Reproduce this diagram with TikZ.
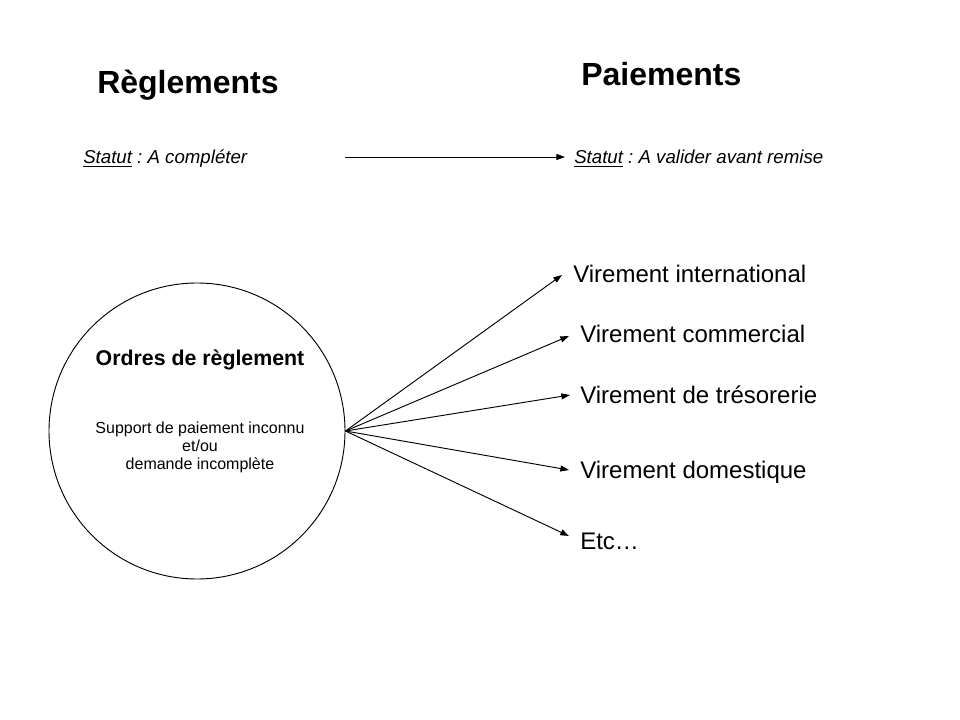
\documentclass[tikz,border=0pt]{standalone}
\usepackage{fontspec}
\setmainfont{Liberation Sans}
\usetikzlibrary{arrows.meta}
\frenchspacing
\begin{document}
\begin{tikzpicture}[x=0.75pt,y=-0.75pt,
  txt/.style={inner sep=0pt, anchor=base west},
  title/.style={txt, font=\bfseries\fontsize{24}{28}\selectfont},
  statut/.style={txt, font=\itshape\fontsize{14}{16}\selectfont},
  target/.style={txt, font=\fontsize{18}{21}\selectfont},
  arr/.style={-{Triangle[length=6.5pt,width=4.5pt]}, line width=0.7pt},
]
\useasboundingbox[fill=white] (0,0) rectangle (960,720);
% titles
\node[title] (reg) at (97,94) {Règlements};
\node[title] (pai) at (581,86) {Paiements};
% status
\node[statut] (s1) at (83,164) {\underline{Statut} : A compléter};
\node[statut] (s2) at (574,164) {\underline{Statut} : A valider avant remise};
\draw[arr, shorten <=73.5pt, shorten >=6.75pt] ([yshift=5.25pt]s1.base east) -- ([yshift=5.25pt]s2.base west);
% circle
\node[draw, circle, minimum size=222pt, inner sep=0pt, line width=0.7pt] (c) at (197,431) {};
\node[font=\bfseries\fontsize{16}{19}\selectfont, inner sep=0pt, anchor=base] (ord) at (200,365) {Ordres de règlement};
\node[font=\fontsize{12}{13.5}\selectfont, inner sep=0pt, align=center] (sup) at (200,447) {Support de paiement inconnu\\et/ou\\demande incomplète};
% targets
\node[target] (vi) at (573,282) {Virement international};
\node[target] (vc) at (580,342) {Virement commercial};
\node[target] (vt) at (580,403) {Virement de trésorerie};
\node[target] (vd) at (580,478) {Virement domestique};
\node[target] (ve) at (580,549) {Etc\ldots};
\draw[arr] (c.east) -- ([xshift=-8.25pt,yshift=5.25pt]vi.base west);
\draw[arr] (c.east) -- ([xshift=-8.25pt,yshift=4.5pt]vc.base west);
\draw[arr] (c.east) -- ([xshift=-7.5pt,yshift=6pt]vt.base west);
\draw[arr] (c.east) -- ([xshift=-8.25pt,yshift=6pt]vd.base west);
\draw[arr] (c.east) -- ([xshift=-8.25pt,yshift=9.75pt]ve.base west);
\end{tikzpicture}
\end{document}
